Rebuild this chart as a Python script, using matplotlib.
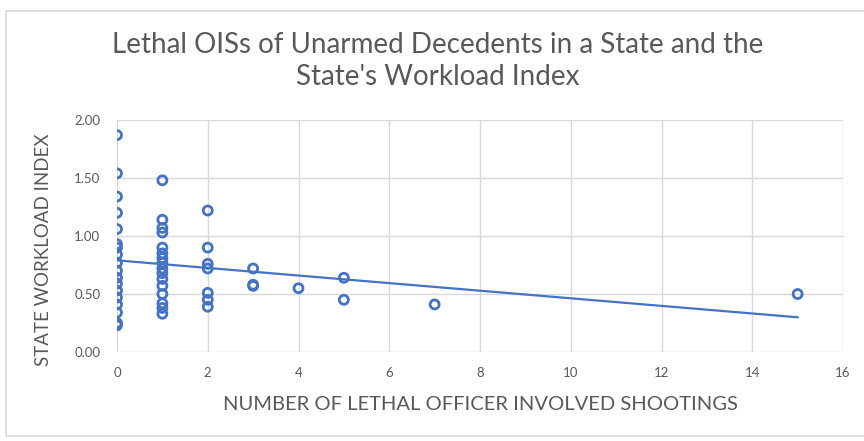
import numpy as np
import matplotlib.pyplot as plt
from matplotlib.patches import Rectangle

plt.rcParams['font.family'] = ['Lato', 'DejaVu Sans']

# Lethal OISs of unarmed decedents (x) vs state workload index (y)
shootings_0 = [0] * 18
workload_0 = [1.87, 1.54, 1.34, 1.20, 1.06, 0.93, 0.90, 0.84, 0.77, 0.70,
              0.64, 0.59, 0.53, 0.47, 0.41, 0.34, 0.25, 0.23]
shootings_1 = [1] * 16
workload_1 = [1.48, 1.14, 1.07, 1.03, 0.90, 0.85, 0.81, 0.77, 0.72, 0.68,
              0.63, 0.57, 0.50, 0.42, 0.38, 0.33]
shootings_2 = [2] * 7
workload_2 = [1.22, 0.90, 0.76, 0.72, 0.51, 0.45, 0.39]
shootings_more = [3, 3, 3, 4, 5, 5, 7, 15]
workload_more = [0.72, 0.58, 0.57, 0.55, 0.64, 0.45, 0.41, 0.50]

x = np.array(shootings_0 + shootings_1 + shootings_2 + shootings_more, dtype=float)
y = np.array(workload_0 + workload_1 + workload_2 + workload_more)

blue = '#4472C4'
grey_text = '#595959'
grid_col = '#D9D9D9'

fig = plt.figure(figsize=(8.64, 4.41), dpi=100)
fig.patches.append(Rectangle((6 / 864, 1 - 436 / 441), 870 / 864, 425 / 441,
                             transform=fig.transFigure, fill=False,
                             edgecolor='#D9D9D9', linewidth=1.2))
ax = fig.add_axes([117 / 864, 1 - 352 / 441, 726 / 864, 232 / 441])

ax.scatter(x, y, s=42, facecolors='none', edgecolors=blue, linewidths=2.0, zorder=3)

# linear trendline
slope, intercept = np.polyfit(x, y, 1)
xs = np.array([x.min(), x.max()])
ax.plot(xs, slope * xs + intercept, color=blue, linewidth=1.6, zorder=2)

ax.set_xlim(0, 16)
ax.set_ylim(0, 2.0)
ax.set_xticks(np.arange(0, 17, 2))
ax.set_yticks(np.arange(0, 2.01, 0.5))
ax.set_yticklabels([f'{v:.2f}' for v in np.arange(0, 2.01, 0.5)])
ax.grid(True, color=grid_col, linewidth=1)
ax.set_axisbelow(True)
for s in ax.spines.values():
    s.set_visible(False)
ax.tick_params(length=0, labelsize=9.5, labelcolor=grey_text)
ax.tick_params(axis='x', pad=11)
ax.tick_params(axis='y', pad=12)

ax.set_xlabel('NUMBER OF LETHAL OFFICER INVOLVED SHOOTINGS', fontsize=14.5,
              color=grey_text, va='center')
ax.xaxis.set_label_coords(0.5, -0.228)
ax.set_ylabel('STATE WORKLOAD INDEX', fontsize=13.5, color=grey_text, va='center')
ax.yaxis.set_label_coords(-0.1006, 0.44)

fig.text(438 / 864, 1 - 61 / 441,
         "Lethal OISs of Unarmed Decedents in a State and the\nState's Workload Index",
         ha='center', va='center', fontsize=20, color=grey_text, linespacing=1.25)

fig.savefig('out.png', dpi=100)
